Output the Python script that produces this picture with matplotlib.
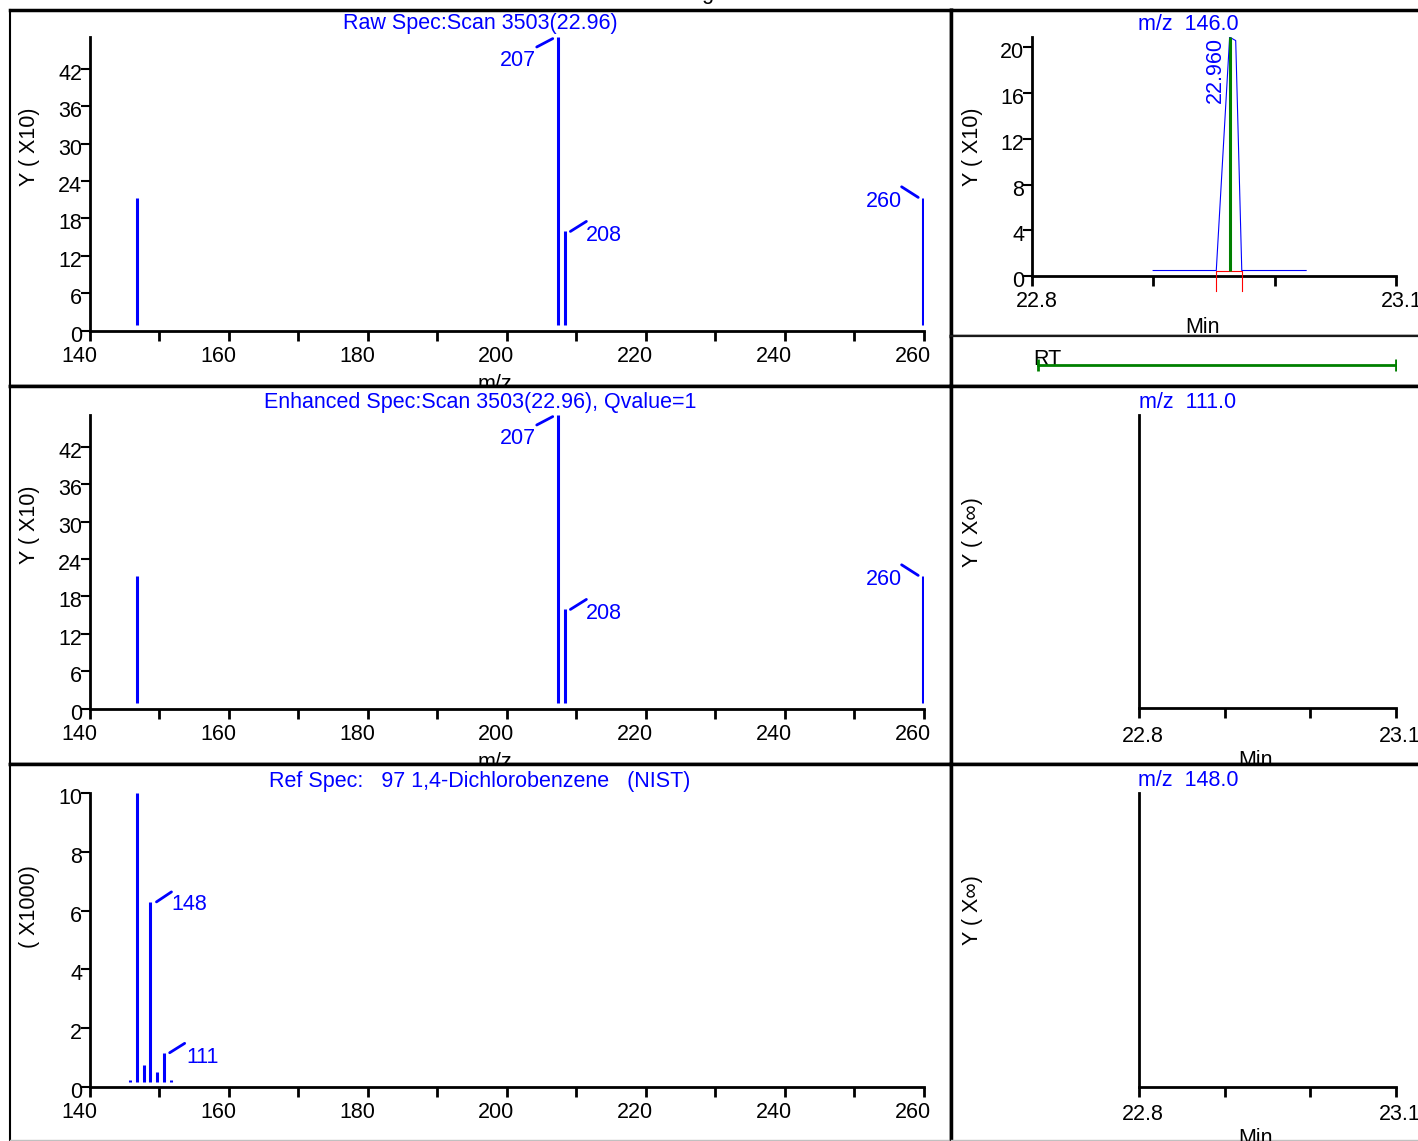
import matplotlib
matplotlib.use('Agg')
import matplotlib.pyplot as plt
from matplotlib.transforms import ScaledTranslation, offset_copy

plt.rcParams['font.family'] = ['Liberation Sans', 'DejaVu Sans']
FS = 15.5
plt.rcParams['font.size'] = FS

W, H = 1418, 1141
BLUE = '#0000ff'
GREEN = '#008000'
RED = '#ff0000'

# raw / enhanced spectrum, intensity in units of 10
raw_mz = [146.8, 207.3, 208.4, 259.8]
raw_int = [21.2, 47.1, 15.9, 21.2]
raw_lbl = ['', '207', '208', '260']
enh_mz = [146.8, 207.3, 208.4, 259.8]
enh_int = [21.2, 47.1, 15.9, 21.2]
enh_lbl = ['', '207', '208', '260']

# NIST reference spectrum, intensity in units of 1000
ref_mz = [145.8, 146.75, 147.7, 148.7, 149.6, 150.6, 151.6]
ref_int = [0.22, 10.0, 0.74, 6.3, 0.49, 1.14, 0.22]
ref_lbl = ['', '', '', '148', '', '111', '']

spec_ticks = list(range(140, 261, 10))
spec_ticklabels = [str(t) if t % 20 == 0 else '' for t in spec_ticks]
raw_yticks = [0, 6, 12, 18, 24, 30, 36, 42]
ref_yticks = [0, 2, 4, 6, 8, 10]

# extracted ion chromatogram m/z 146
chrom_t = [22.900, 22.952, 22.963, 22.968, 22.973, 23.026]
chrom_y = [0.48, 0.48, 20.9, 20.6, 0.48, 0.48]
apex_t, apex_y, apex_lbl = 22.963, 20.9, '22.960'
peak_start, peak_end, peak_base = 22.952, 22.973, 0.48
rt_range = [22.805, 23.1]
chrom_ticks = [22.8, 22.9, 23.0, 23.1]
chrom_ticklabels = ['22.8', '', '', '23.1']
chrom_yticks = [0, 4, 8, 12, 16, 20]

# label placement in pixels relative to the peak tip: text centre, leader start, leader end
label_style = {
    '207': ((-40, -24), (-21, -10), (-5, -1.6)),
    '208': ((38, -4), (5, 0), (21, 10)),
    '260': ((-39, -3), (-21, 11.6), (-4.4, 1)),
    '148': ((39, -3), (6, 0), (21, 10)),
    '111': ((39, -4), (6, 0.6), (21, 10)),
}

fig = plt.figure(figsize=(W / 100, H / 100), dpi=100)


def rect(x0, y0, x1, y1):
    return [x0 / W, 1 - y1 / H, (x1 - x0) / W, (y1 - y0) / H]


def frame(x0, y0, x1, y1, lw=2.5):
    a = fig.add_axes(rect(x0, y0, x1, y1))
    a.set_xticks([])
    a.set_yticks([])
    for s in a.spines.values():
        s.set_linewidth(lw)
    return a


def plot_axes(x0, y0, x1, y1):
    a = fig.add_axes(rect(x0, y0, x1, y1))
    a.patch.set_visible(False)
    a.spines[['top', 'right']].set_visible(False)
    a.spines[['left', 'bottom']].set_linewidth(2)
    a.tick_params(axis='x', direction='out', length=7, width=2, pad=4, labelsize=FS)
    a.tick_params(axis='y', direction='out', length=6.5, width=1.5, pad=-1, labelsize=FS)
    return a


def shift(labels, dx, dy=0):
    off = ScaledTranslation(dx / 100, dy / 100, fig.dpi_scale_trans)
    for t in labels:
        t.set_transform(t.get_transform() + off)


def ftext(x, y, s, **kw):
    fig.text(x / W, 1 - y / H, s, ha='center', va='center', fontsize=FS, **kw)


def spectrum(y0, mz, inten, lbls, base, ymax, yticks, xlabel):
    ax = plot_axes(90, y0, 924, y0 + 293.5)
    ax.vlines(mz, base, inten, color=BLUE, lw=2.2)
    ax.set_xlim(140, 260)
    ax.set_ylim(0, ymax)
    ax.set_xticks(spec_ticks, spec_ticklabels)
    ax.set_yticks(yticks)
    shift(ax.get_xticklabels(), -11)
    shift(ax.get_yticklabels(), 0, -3)
    for x, y, s in zip(mz, inten, lbls):
        if not s:
            continue
        txt, a, b = label_style[s]
        ax.annotate(s, (x, y), xytext=txt, textcoords='offset pixels',
                    ha='center', va='center', color=BLUE, fontsize=FS)
        tr = offset_copy(ax.transData, fig=fig, x=a[0], y=a[1], units='dots')
        ax.annotate('', (x, y), xycoords=tr, xytext=(b[0] - a[0], b[1] - a[1]),
                    textcoords='offset pixels',
                    arrowprops=dict(arrowstyle='-', color=BLUE, lw=2, shrinkA=0, shrinkB=0))
    if xlabel:
        ax.set_xlabel(xlabel, fontsize=FS)
        ax.xaxis.set_label_coords(0.4856, -0.148)
    return ax


def empty_chrom(y0):
    ax = plot_axes(1139.3, y0, 1396, y0 + 293.3)
    ax.set_xlim(22.8, 23.1)
    ax.set_ylim(0, 1)
    ax.set_yticks([])
    ax.set_xticks(chrom_ticks, chrom_ticklabels)
    ax.tick_params(axis='x', pad=5.5)
    shift(ax.get_xticklabels(), 3.5)
    ax.set_xlabel('Min', fontsize=FS)
    ax.xaxis.set_label_coords(0.4546, -0.142)
    return ax


# left column
f = frame(10, 9.5, 951, 386)
f.spines['left'].set_linewidth(1.5)
spectrum(37, raw_mz, raw_int, raw_lbl, 0.88, 47.1, raw_yticks, 'm/z')

f = frame(10, 386, 951, 764)
f.spines['left'].set_linewidth(1.5)
spectrum(415, enh_mz, enh_int, enh_lbl, 0.88, 47.1, raw_yticks, 'm/z')

f = frame(10, 764, 951, 1140)
f.spines['left'].set_linewidth(1.5)
f.spines['bottom'].set_linewidth(1)
f.spines['bottom'].set_color('#c0c0c0')
spectrum(793.3, ref_mz, ref_int, ref_lbl, 0.17, 10.0, ref_yticks, None)

# right column: chromatogram of m/z 146
frame(951, 9.5, 1440, 336)
ax = plot_axes(1031.7, 36.7, 1396, 276)
ax.plot(chrom_t, chrom_y, color=BLUE, lw=0.8, zorder=2)
ax.plot([peak_start, peak_start, peak_end, peak_end],
        [-1.3, peak_base, peak_base, -1.3], color=RED, lw=0.8, clip_on=False, zorder=3)
ax.vlines(apex_t, peak_base, apex_y, color=GREEN, lw=2.2, zorder=4)
ax.annotate(apex_lbl, (apex_t, apex_y), xytext=(-14.6, -33.3), textcoords='offset pixels',
            rotation=90, ha='center', va='center', color=BLUE, fontsize=FS)
ax.set_xlim(22.8, 23.1)
ax.set_ylim(0, 20.94)
ax.set_xticks(chrom_ticks, chrom_ticklabels)
ax.set_yticks(chrom_yticks)
shift(ax.get_xticklabels(), 5.6)
shift(ax.get_yticklabels(), 0, -3)
ax.set_xlabel('Min', fontsize=FS)
ax.xaxis.set_label_coords(0.470, -0.170)

# RT bar
f = frame(951, 336, 1440, 386)
f.spines['top'].set_linewidth(1.6)
f.spines['top'].set_color('#1a1a1a')
rt = fig.add_axes(rect(1031.7, 350, 1396, 380))
rt.set_axis_off()
rt.set_xlim(22.8, 23.1)
rt.set_ylim(0, 1)
rt.text(0.042, 0.667, 'RT', transform=rt.transAxes, ha='center', va='center',
        fontsize=FS, zorder=1)
rt.plot(rt_range, [0.5, 0.5], color=GREEN, lw=2, marker='|', markersize=8,
        markeredgewidth=2, zorder=2)

frame(951, 386, 1440, 764)
empty_chrom(415)

f = frame(951, 764, 1440, 1140)
f.spines['bottom'].set_linewidth(1)
f.spines['bottom'].set_color('#c0c0c0')
empty_chrom(793.3)

# titles and axis captions
ftext(700, -7, 'Processing Results')
ftext(480, 24, 'Raw Spec:Scan 3503(22.96)', color=BLUE)
ftext(480, 403, 'Enhanced Spec:Scan 3503(22.96), Qvalue=1', color=BLUE)
ftext(480, 781, 'Ref Spec:   97 1,4-Dichlorobenzene   (NIST)', color=BLUE)
ftext(1188, 24, 'm/z  146.0', color=BLUE)
ftext(1188, 403, 'm/z  111.0', color=BLUE)
ftext(1188, 781, 'm/z  148.0', color=BLUE)

ftext(29, 147, 'Y ( X10)', rotation=90)
ftext(29, 525, 'Y ( X10)', rotation=90)
ftext(30, 907, '( X1000)', rotation=90)
ftext(972, 147, 'Y ( X10)', rotation=90)
ftext(972, 532, 'Y ( X\u221e)', rotation=90)
ftext(972, 910, 'Y ( X\u221e)', rotation=90)

fig.savefig('out.png', dpi=100)
